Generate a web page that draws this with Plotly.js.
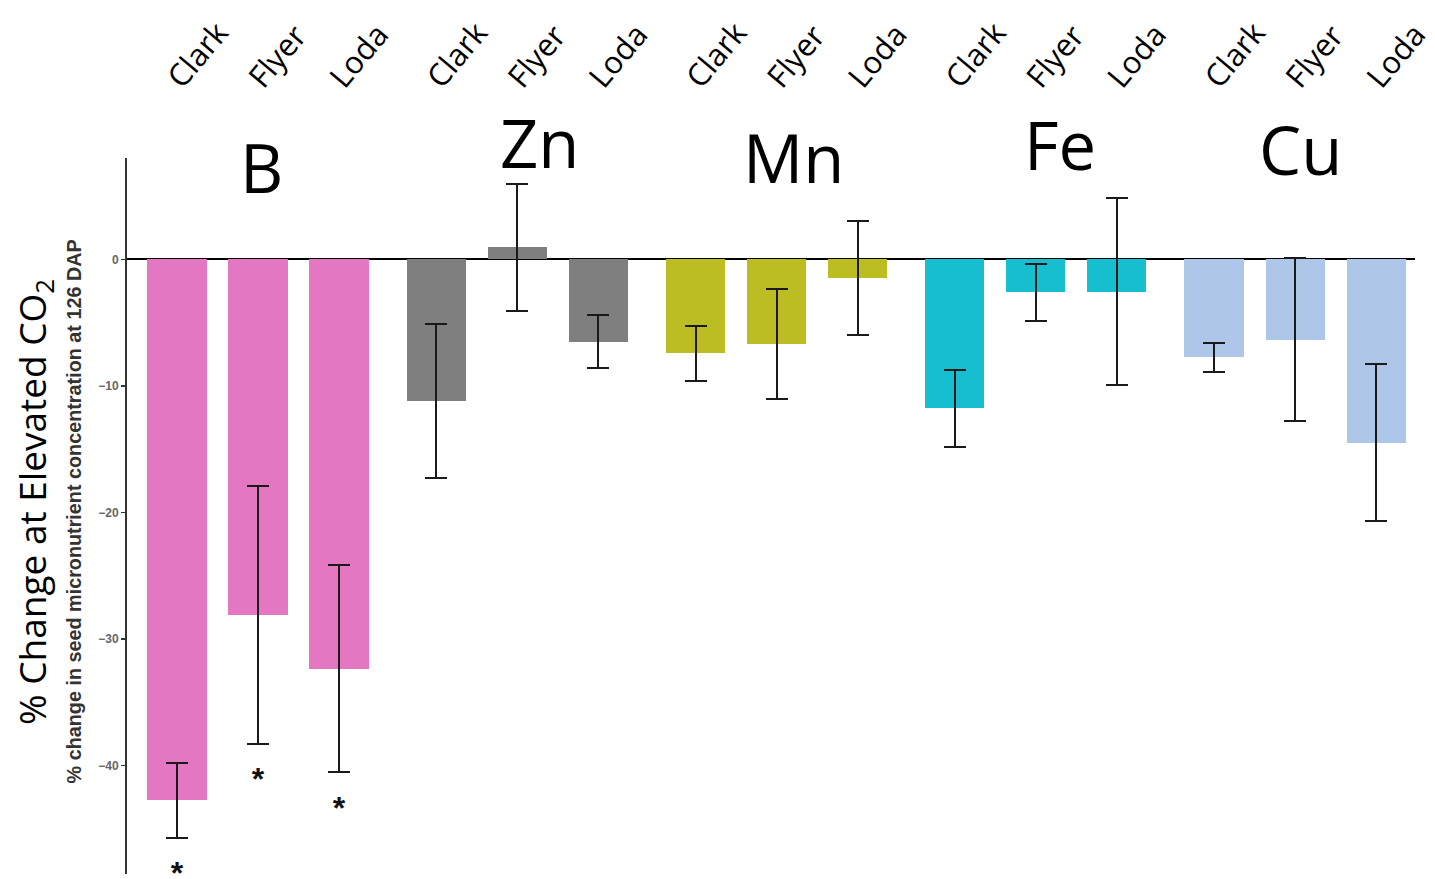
<!DOCTYPE html>
<html>
<head>
<meta charset="utf-8">
<script src="https://cdn.plot.ly/plotly-3.0.1.min.js"></script>
<style>html,body{margin:0;padding:0;background:#fff;}#chart{width:1435px;height:879px;}</style>
</head>
<body>
<div id="chart"></div>
<script>
// ---- data ----
const elements = ['B', 'Zn', 'Mn', 'Fe', 'Cu'];
const cultivars = ['Clark', 'Flyer', 'Loda'];

const changeB  = [-42.75, -28.1, -32.35];
const changeZn = [-11.2, 0.95, -6.5];
const changeMn = [-7.42, -6.7, -1.47];
const changeFe = [-11.75, -2.6, -2.55];
const changeCu = [-7.75, -6.34, -14.48];

const errB  = [2.95, 10.2, 8.2];
const errZn = [6.1, 5.05, 2.07];
const errMn = [2.17, 4.33, 4.5];
const errFe = [3.05, 2.24, 7.37];
const errCu = [1.16, 6.47, 6.22];

const sigB  = ['*', '*', '*'];
const sigZn = ['', '', ''];
const sigMn = ['', '', ''];
const sigFe = ['', '', ''];
const sigCu = ['', '', ''];

const yTicks = [0, -10, -20, -30, -40];

// ---- styles ----
const colors = ['#E377C2', '#7F7F7F', '#BCBD22', '#17BECF', '#AEC7E8'];
const GROUP_STEP = 3.2;
const LABEL_OFFSET = -0.08;
const STAR_GAP = 1.75;
const labelY = [0.9018, 0.9337, 0.9145, 0.9311, 0.9247];
const labelShift = [3, 22, 17, 24, 5];

const changes = [changeB, changeZn, changeMn, changeFe, changeCu];
const errs = [errB, errZn, errMn, errFe, errCu];
const sigs = [sigB, sigZn, sigMn, sigFe, sigCu];

const traces = [];
const tickvals = [], ticktext = [];
const starX = [], starY = [], starT = [];
elements.forEach((el, g) => {
  const xs = cultivars.map((c, i) => g * GROUP_STEP + i);
  xs.forEach((x, i) => {
    tickvals.push(x + LABEL_OFFSET); ticktext.push(cultivars[i]);
    if (sigs[g][i]) {
      starX.push(x);
      starY.push(changes[g][i] - errs[g][i] - STAR_GAP);
      starT.push(sigs[g][i]);
    }
  });
  traces.push({
    type: 'bar', x: xs, y: changes[g], name: el, width: 0.73,
    marker: {color: colors[g], line: {width: 0}},
    error_y: {type: 'data', array: errs[g], visible: true, color: '#1a1a1a', thickness: 2, width: 11},
    hoverinfo: 'x+y'
  });
});
traces.push({
  type: 'scatter', mode: 'text', x: starX, y: starY, text: starT,
  textposition: 'bottom center', cliponaxis: false,
  textfont: {family: 'Liberation Sans', size: 32, color: '#111', weight: 'bold'},
  hoverinfo: 'skip', showlegend: false
});

const annotations = elements.map((el, g) => ({
  text: el, xref: 'x', yref: 'paper', x: g * GROUP_STEP + 1, y: labelY[g],
  xshift: labelShift[g], xanchor: 'center', yanchor: 'middle', showarrow: false,
  font: {family: 'Open Sans', size: 67, color: '#000'}
}));
annotations.push({
  text: '% Change at Elevated CO<sub>2</sub>', xref: 'paper', yref: 'paper',
  x: -0.0722, y: 0.4745, xanchor: 'center', yanchor: 'middle', textangle: -90, showarrow: false,
  font: {family: 'Open Sans', size: 37, color: '#000'}
});
annotations.push({
  text: '<b>% change in seed micronutrient concentration at 126 DAP</b>', xref: 'paper', yref: 'paper',
  x: -0.0404, y: 0.4624, xanchor: 'center', yanchor: 'middle', textangle: -90, showarrow: false,
  font: {family: 'Liberation Sans', size: 19.8, color: '#333'}
});

const layout = {
  width: 1435, height: 879,
  margin: {l: 127, r: 20, t: 90, b: 5},
  paper_bgcolor: '#fff', plot_bgcolor: '#fff',
  showlegend: false, bargap: 0,
  xaxis: {
    side: 'top', anchor: 'free', position: 0.985,
    range: [-0.617, 15.28], tickvals: tickvals, ticktext: ticktext,
    tickangle: -50, ticks: '', showline: false, showgrid: false, zeroline: false,
    ticklabeloverflow: 'allow',
    tickfont: {family: 'Open Sans', size: 31, color: '#000'}
  },
  yaxis: {
    domain: [0, 0.91327], range: [-48.58, 8.02], tickvals: yTicks,
    ticks: 'outside', ticklen: 4, tickwidth: 1.5, tickcolor: '#333',
    showline: true, linecolor: '#333', linewidth: 2,
    zeroline: true, zerolinecolor: '#000', zerolinewidth: 2, showgrid: false,
    tickfont: {family: 'Liberation Sans', size: 12, color: '#666', weight: 'bold'}
  },
  annotations: annotations
};

Plotly.newPlot('chart', traces, layout, {displayModeBar: false, staticPlot: true});
</script>
</body>
</html>
